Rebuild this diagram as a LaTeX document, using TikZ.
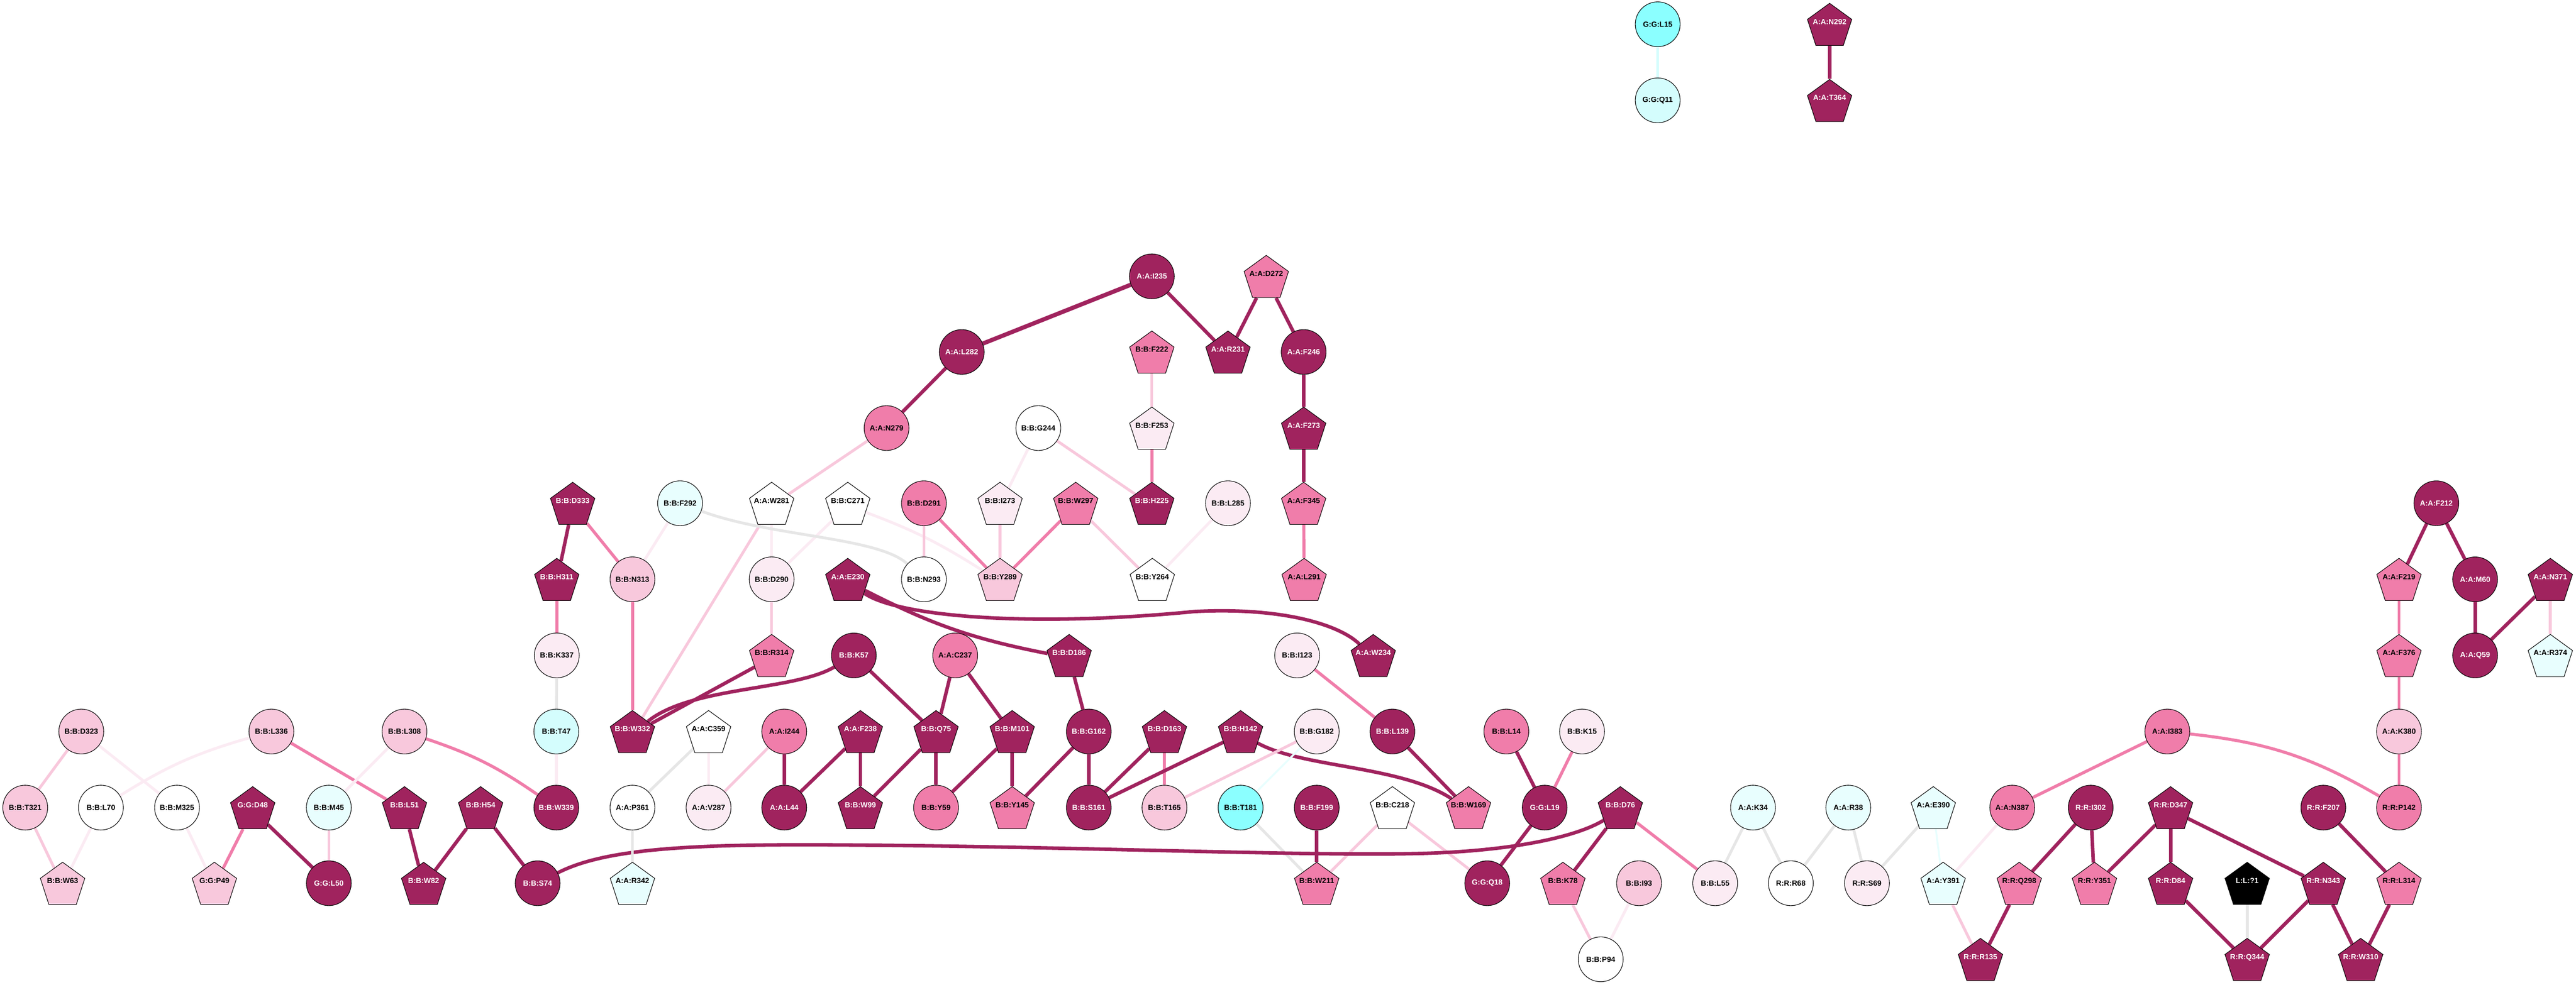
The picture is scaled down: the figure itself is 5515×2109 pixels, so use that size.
\documentclass[tikz,border=0pt]{standalone}
\usepackage{fontspec}
\setmainfont{Liberation Sans}
\usetikzlibrary{shapes.geometric,backgrounds}
\definecolor{dk}{HTML}{A0235E}
\definecolor{md}{HTML}{F07DAA}
\definecolor{lt}{HTML}{F8C8DC}
\definecolor{pl}{HTML}{FBEBF3}
\definecolor{cyA}{HTML}{E8FEFE}
\definecolor{cyB}{HTML}{D4FDFD}
\definecolor{cyC}{HTML}{8BFFFF}
\definecolor{gr}{HTML}{E6E6E6}
\newcommand{\plab}[1]{\raisebox{5pt}[0pt][0pt]{\makebox[0pt]{#1}}}
\begin{document}
\begin{tikzpicture}[x=1pt,y=-1pt,
  res/.style={draw=black,line width=1.2pt,inner sep=0pt,font=\fontsize{16}{16}\selectfont\bfseries},
  rc/.style={res,circle,minimum size=96pt},
  rp/.style={res,regular polygon,regular polygon sides=5,minimum size=100pt,yshift=-5pt},
  fdk/.style={fill=dk,text=white},
  fmd/.style={fill=md},
  flt/.style={fill=lt},
  fpl/.style={fill=pl},
  fwh/.style={fill=white},
  fca/.style={fill=cyA},
  fcb/.style={fill=cyB},
  fcc/.style={fill=cyC},
  fbk/.style={fill=black,text=white},
  edk/.style={draw=dk,line width=7.5pt},
  emd/.style={draw=md,line width=6.5pt},
  elt/.style={draw=lt,line width=6pt},
  epl/.style={draw=pl,line width=6pt},
  egr/.style={draw=gr,line width=6pt},
  eca/.style={draw=cyA,line width=4pt},
  ecb/.style={draw=cyB,line width=6pt}]
\useasboundingbox (0,0) rectangle (5515,2109);

% top pairs
\node[rc,fcc] (gL15) at (3549,52) {G:G:L15};
\node[rc,fcb] (gQ11) at (3549,215) {G:G:Q11};
\node[rp,fdk] (aN292) at (3917,52) {\plab{A:A:N292}};
\node[rp,fdk] (aT364) at (3917,215) {\plab{A:A:T364}};

% row 592 - 917
\node[rc,fdk] (aI235) at (2466,592) {A:A:I235};
\node[rp,fmd] (aD272) at (2711,592) {\plab{A:A:D272}};
\node[rc,fdk] (aL282) at (2059,754) {A:A:L282};
\node[rp,fmd] (bF222) at (2466,754) {\plab{B:B:F222}};
\node[rp,fdk] (aR231) at (2629,754) {\plab{A:A:R231}};
\node[rc,fdk] (aF246) at (2791,754) {A:A:F246};
\node[rc,fmd] (aN279) at (1898,917) {A:A:N279};
\node[rc,fwh] (bG244) at (2223,917) {B:B:G244};
\node[rp,fpl] (bF253) at (2466,917) {\plab{B:B:F253}};
\node[rp,fdk] (aF273) at (2791,917) {\plab{A:A:F273}};

% row 1078
\node[rp,fdk] (bD333) at (1226,1078) {\plab{B:B:D333}};
\node[rc,fca] (bF292) at (1456,1078) {B:B:F292};
\node[rp,fwh] (aW281) at (1652,1078) {\plab{A:A:W281}};
\node[rp,fwh] (bC271) at (1815,1078) {\plab{B:B:C271}};
\node[rc,fmd] (bD291) at (1978,1078) {B:B:D291};
\node[rp,fpl] (bI273) at (2141,1078) {\plab{B:B:I273}};
\node[rp,fmd] (bW297) at (2303,1078) {\plab{B:B:W297}};
\node[rp,fdk] (bH225) at (2466,1078) {\plab{B:B:H225}};
\node[rc,fpl] (bL285) at (2629,1078) {B:B:L285};
\node[rp,fmd] (aF345) at (2791,1078) {\plab{A:A:F345}};
\node[rc,fdk] (aF212) at (5216,1078) {A:A:F212};

% row 1241
\node[rp,fdk] (bH311) at (1192,1241) {\plab{B:B:H311}};
\node[rc,flt] (bN313) at (1354,1241) {B:B:N313};
\node[rc,fpl] (bD290) at (1652,1241) {B:B:D290};
\node[rp,fdk] (aE230) at (1815,1241) {\plab{A:A:E230}};
\node[rc,fwh] (bN293) at (1978,1241) {B:B:N293};
\node[rp,flt] (bY289) at (2141,1241) {\plab{B:B:Y289}};
\node[rp,fwh] (bY264) at (2467,1241) {\plab{B:B:Y264}};
\node[rp,fmd] (aL291) at (2792,1241) {\plab{A:A:L291}};
\node[rp,fmd] (aF219) at (5136,1241) {\plab{A:A:F219}};
\node[rc,fdk] (aM60) at (5299,1241) {A:A:M60};
\node[rp,fdk] (aN371) at (5460,1241) {\plab{A:A:N371}};

% row 1404
\node[rc,fpl] (bK337) at (1192,1404) {B:B:K337};
\node[rp,fmd] (bR314) at (1652,1404) {\plab{B:B:R314}};
\node[rc,fdk] (bK57) at (1828,1404) {B:B:K57};
\node[rc,fmd] (aC237) at (2045,1404) {A:A:C237};
\node[rp,fdk] (bD186) at (2289,1404) {\plab{B:B:D186}};
\node[rc,fpl] (bI123) at (2777,1404) {B:B:I123};
\node[rp,fdk] (aW234) at (2940,1404) {\plab{A:A:W234}};
\node[rp,fmd] (aF376) at (5136,1404) {\plab{A:A:F376}};
\node[rc,fdk] (aQ59) at (5299,1404) {A:A:Q59};
\node[rp,fca] (aR374) at (5460,1404) {\plab{A:A:R374}};

% row 1567
\node[rc,flt] (bD323) at (174,1567) {B:B:D323};
\node[rc,flt] (bL336) at (581,1567) {B:B:L336};
\node[rc,flt] (bL308) at (866,1567) {B:B:L308};
\node[rc,fcb] (bT47) at (1191,1567) {B:B:T47};
\node[rp,fdk] (bW332) at (1354,1567) {\plab{B:B:W332}};
\node[rp,fwh] (aC359) at (1517,1567) {\plab{A:A:C359}};
\node[rc,fmd] (aI244) at (1679,1567) {A:A:I244};
\node[rp,fdk] (aF238) at (1842,1567) {\plab{A:A:F238}};
\node[rp,fdk] (bQ75) at (2004,1567) {\plab{B:B:Q75}};
\node[rp,fdk] (bM101) at (2167,1567) {\plab{B:B:M101}};
\node[rc,fdk] (bG162) at (2331,1567) {B:B:G162};
\node[rp,fdk] (bD163) at (2493,1567) {\plab{B:B:D163}};
\node[rp,fdk] (bH142) at (2656,1567) {\plab{B:B:H142}};
\node[rc,fpl] (bG182) at (2819,1567) {B:B:G182};
\node[rc,fdk] (bL139) at (2981,1567) {B:B:L139};
\node[rc,fmd] (bL14) at (3225,1567) {B:B:L14};
\node[rc,fpl] (bK15) at (3387,1567) {B:B:K15};
\node[rc,fmd] (aI383) at (4640,1567) {A:A:I383};
\node[rc,flt] (aK380) at (5136,1567) {A:A:K380};

% row 1730
\node[rc,flt] (bT321) at (54,1730) {B:B:T321};
\node[rc,fwh] (bL70) at (216,1730) {B:B:L70};
\node[rc,fwh] (bM325) at (379,1730) {B:B:M325};
\node[rp,fdk] (gD48) at (541,1730) {\plab{G:G:D48}};
\node[rc,fca] (bM45) at (704,1730) {B:B:M45};
\node[rp,fdk] (bL51) at (866,1730) {\plab{B:B:L51}};
\node[rp,fdk] (bH54) at (1029,1730) {\plab{B:B:H54}};
\node[rc,fdk] (bW339) at (1191,1730) {B:B:W339};
\node[rc,fwh] (aP361) at (1354,1730) {A:A:P361};
\node[rc,fpl] (aV287) at (1517,1730) {A:A:V287};
\node[rc,fdk] (aL44) at (1679,1730) {A:A:L44};
\node[rp,fdk] (bW99) at (1842,1730) {\plab{B:B:W99}};
\node[rc,fmd] (bY59) at (2004,1730) {B:B:Y59};
\node[rp,fmd] (bY145) at (2167,1730) {\plab{B:B:Y145}};
\node[rc,fdk] (bS161) at (2331,1730) {B:B:S161};
\node[rc,flt] (bT165) at (2493,1730) {B:B:T165};
\node[rc,fcc] (bT181) at (2656,1730) {B:B:T181};
\node[rc,fdk] (bF199) at (2819,1730) {B:B:F199};
\node[rp,fwh] (bC218) at (2981,1730) {\plab{B:B:C218}};
\node[rp,fmd] (bW169) at (3144,1730) {\plab{B:B:W169}};
\node[rc,fdk] (gL19) at (3307,1730) {G:G:L19};
\node[rp,fdk] (bD76) at (3469,1730) {\plab{B:B:D76}};
\node[rc,fca] (aK34) at (3753,1730) {A:A:K34};
\node[rc,fca] (aR38) at (3957,1730) {A:A:R38};
\node[rp,fca] (aE390) at (4139,1730) {\plab{A:A:E390}};
\node[rc,fmd] (aN387) at (4308,1730) {A:A:N387};
\node[rc,fdk] (rI302) at (4476,1730) {R:R:I302};
\node[rp,fdk] (rD347) at (4647,1730) {\plab{R:R:D347}};
\node[rc,fdk] (rF207) at (4974,1730) {R:R:F207};
\node[rc,fmd] (rP142) at (5136,1730) {R:R:P142};

% row 1892
\node[rp,flt] (bW63) at (134,1892) {\plab{B:B:W63}};
\node[rp,flt] (gP49) at (459,1892) {\plab{G:G:P49}};
\node[rc,fdk] (gL50) at (704,1892) {G:G:L50};
\node[rp,fdk] (bW82) at (907,1892) {\plab{B:B:W82}};
\node[rc,fdk] (bS74) at (1151,1892) {B:B:S74};
\node[rp,fca] (aR342) at (1354,1892) {\plab{A:A:R342}};
\node[rp,fmd] (bW211) at (2819,1892) {\plab{B:B:W211}};
\node[rc,fdk] (gQ18) at (3184,1892) {G:G:Q18};
\node[rp,fmd] (bK78) at (3346,1892) {\plab{B:B:K78}};
\node[rc,flt] (bI93) at (3509,1892) {B:B:I93};
\node[rc,fpl] (bL55) at (3672,1892) {B:B:L55};
\node[rc,fwh] (rR68) at (3834,1892) {R:R:R68};
\node[rc,fpl] (rS69) at (3997,1892) {R:R:S69};
\node[rp,fca] (aY391) at (4160,1892) {\plab{A:A:Y391}};
\node[rp,fmd] (rQ298) at (4323,1892) {\plab{R:R:Q298}};
\node[rp,fmd] (rY351) at (4484,1892) {\plab{R:R:Y351}};
\node[rp,fdk] (rD84) at (4647,1892) {\plab{R:R:D84}};
\node[rp,fbk] (lQ1) at (4811,1892) {\plab{L:L:?1}};
\node[rp,fdk] (rN343) at (4974,1892) {\plab{R:R:N343}};
\node[rp,fmd] (rL314) at (5136,1892) {\plab{R:R:L314}};

% row 2055
\node[rc,fwh] (bP94) at (3427,2055) {B:B:P94};
\node[rp,fdk] (rR135) at (4240,2055) {\plab{R:R:R135}};
\node[rp,fdk] (rQ344) at (4811,2055) {\plab{R:R:Q344}};
\node[rp,fdk] (rW310) at (5054,2055) {\plab{R:R:W310}};

\begin{scope}[on background layer]
% top
\draw[ecb] (gL15) -- (gQ11);
\draw[edk] (aN292) -- (aT364);
% upper cluster
\draw[edk,line width=9pt] (aI235) -- (aL282);
\draw[edk] (aI235) -- (aR231);
\draw[edk] (aD272) -- (aR231);
\draw[edk] (aD272) -- (aF246);
\draw[edk] (aL282) -- (aN279);
\draw[edk] (aF246) -- (aF273);
\draw[edk] (aF273) -- (aF345);
\draw[emd] (aF345) -- (aL291);
\draw[elt] (bF222) -- (bF253);
\draw[emd] (bF253) -- (bH225);
\draw[elt] (bG244) -- (bH225);
\draw[epl] (bG244) -- (bI273);
\draw[elt] (aN279) -- (aW281);
\draw[elt] (aW281) -- (bW332);
\draw[epl] (aW281) -- (bD290);
\draw[epl] (bC271) -- (bD290);
\draw[epl] (bC271) to[bend left=6] (bY289);
\draw[egr] (bF292) .. controls (1650,1150) and (1880,1150) .. (bN293);
\draw[epl] (bF292) -- (bN313);
\draw[elt] (bD291) -- (bN293);
\draw[emd] (bD291) -- (bY289);
\draw[elt] (bI273) -- (bY289);
\draw[emd] (bW297) -- (bY289);
\draw[elt] (bW297) -- (bY264);
\draw[epl] (bL285) -- (bY264);
\draw[edk] (bD333) -- (bH311);
\draw[emd] (bD333) -- (bN313);
\draw[emd] (bH311) -- (bK337);
\draw[egr] (bK337) -- (bT47);
\draw[emd] (bN313) -- (bW332);
\draw[elt] (bD290) -- (bR314);
\draw[edk] (bR314) -- (bW332);
\draw[edk] (bK57) .. controls (1700,1480) and (1480,1470) .. (bW332);
\draw[edk] (bK57) -- (bQ75);
\draw[edk] (aC237) -- (bQ75);
\draw[edk] (aC237) -- (bM101);
\draw[edk] (aE230) to[bend right=8] (bD186);
\draw[edk] (aE230) .. controls (1920,1320) and (2200,1345) .. (2557,1310)
  .. controls (2750,1300) and (2870,1340) .. (aW234);
\draw[emd] (bI123) -- (bL139);
\draw[edk] (bL139) -- (bW169);
\draw[edk] (bD186) -- (bG162);
\draw[edk] (bG162) -- (bS161);
\draw[edk] (bG162) -- (bY145);
\draw[edk] (bD163) -- (bS161);
\draw[emd] (bD163) -- (bT165);
\draw[edk] (bH142) -- (bS161);
\draw[edk] (bH142) .. controls (2790,1645) and (3000,1640) .. (bW169);
\draw[elt] (bG182) -- (bT165);
\draw[eca] (bG182) -- (bT181);
\draw[egr] (bT181) -- (bW211);
\draw[edk] (bF199) -- (bW211);
\draw[elt] (bC218) -- (bW211);
\draw[elt] (bC218) -- (gQ18);
\draw[edk] (bL14) -- (gL19);
\draw[emd] (bK15) -- (gL19);
\draw[edk] (gL19) -- (gQ18);
\draw[edk] (bD76) -- (bK78);
\draw[emd] (bD76) -- (bL55);
\draw[edk] (bS74) .. controls (1300,1815) and (1500,1808) .. (1800,1810)
  .. controls (2300,1813) and (2800,1835) .. (3050,1828)
  .. controls (3250,1822) and (3380,1790) .. (bD76);
\draw[elt] (bK78) -- (bP94);
\draw[epl] (bI93) -- (bP94);
% right side
\draw[egr] (aK34) -- (bL55);
\draw[egr] (aK34) -- (rR68);
\draw[egr] (aR38) -- (rR68);
\draw[egr] (aR38) -- (rS69);
\draw[egr] (aE390) -- (rS69);
\draw[eca] (aE390) -- (aY391);
\draw[elt] (aY391) -- (rR135);
\draw[epl] (aN387) -- (aY391);
\draw[emd] (aI383) -- (aN387);
\draw[emd] (aI383) to[bend left=12] (rP142);
\draw[edk] (rI302) -- (rQ298);
\draw[edk] (rI302) -- (rY351);
\draw[edk] (rD347) -- (rY351);
\draw[edk] (rD347) -- (rD84);
\draw[edk] (rD347) -- (rN343);
\draw[edk] (rF207) -- (rL314);
\draw[edk] (rQ298) -- (rR135);
\draw[edk] (rD84) -- (rQ344);
\draw[egr] (lQ1) -- (rQ344);
\draw[edk] (rN343) -- (rQ344);
\draw[edk] (rN343) -- (rW310);
\draw[edk] (rL314) -- (rW310);
\draw[edk] (aF212) -- (aF219);
\draw[edk] (aF212) -- (aM60);
\draw[emd] (aF219) -- (aF376);
\draw[emd] (aF376) -- (aK380);
\draw[emd] (aK380) -- (rP142);
\draw[edk] (aM60) -- (aQ59);
\draw[edk] (aN371) -- (aQ59);
\draw[elt] (aN371) -- (aR374);
% lower left
\draw[elt] (bD323) -- (bT321);
\draw[epl] (bD323) -- (bM325);
\draw[epl] (bL336) to[bend right=8] (bL70);
\draw[emd] (bL336) -- (bL51);
\draw[epl] (bL308) -- (bM45);
\draw[emd] (bL308) to[bend left=8] (bW339);
\draw[epl] (bT47) -- (bW339);
\draw[elt] (bT321) -- (bW63);
\draw[epl] (bL70) -- (bW63);
\draw[epl] (bM325) -- (gP49);
\draw[emd] (gD48) -- (gP49);
\draw[edk] (gD48) -- (gL50);
\draw[elt] (bM45) -- (gL50);
\draw[edk] (bL51) -- (bW82);
\draw[edk] (bH54) -- (bW82);
\draw[edk] (bH54) -- (bS74);
\draw[egr] (aC359) -- (aP361);
\draw[epl] (aC359) -- (aV287);
\draw[elt] (aI244) -- (aV287);
\draw[edk] (aI244) -- (aL44);
\draw[edk] (aF238) -- (aL44);
\draw[edk] (aF238) -- (bW99);
\draw[edk] (bQ75) -- (bW99);
\draw[edk] (bQ75) -- (bY59);
\draw[edk] (bM101) -- (bY59);
\draw[edk] (bM101) -- (bY145);
\draw[egr] (aP361) -- (aR342);
\end{scope}
\end{tikzpicture}
\end{document}
